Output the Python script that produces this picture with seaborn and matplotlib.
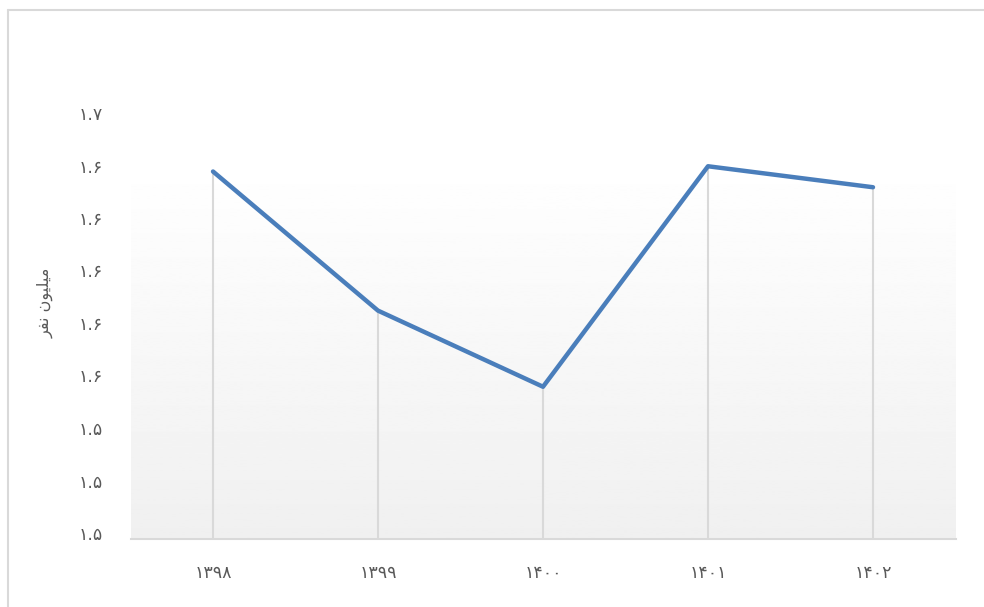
import matplotlib
matplotlib.use("Agg")
import matplotlib.pyplot as plt
import matplotlib.transforms as mtransforms
import seaborn as sns
import numpy as np
import pandas as pd

# data
years = ["۱۳۹۸", "۱۳۹۹", "۱۴۰۰", "۱۴۰۱", "۱۴۰۲"]
population = [1.640, 1.587, 1.558, 1.642, 1.634]   # million people
y_ticks = [1.50, 1.52, 1.54, 1.56, 1.58, 1.60, 1.62, 1.64, 1.66]

# "میلیون نفر" in shaped presentation forms, visual (left-to-right) order
y_label = "\ufeae\ufed4\ufee7 \ufee5\ufeee\ufef4\ufee0\ufef4\ufee3"

PERSIAN = str.maketrans("0123456789", "۰۱۲۳۴۵۶۷۸۹")


def fa_num(v):
    """Format a tick value with one decimal and Persian digits."""
    return f"{v:.1f}".translate(PERSIAN)


sns.set_style("white")
plt.rcParams["font.family"] = ["DejaVu Sans"]

df = pd.DataFrame({"pos": np.arange(len(years)), "value": population})

fig = plt.figure(figsize=(9.84, 6.07), dpi=100)
ax = fig.add_axes([130.5 / 984, (607 - 539) / 607, 825 / 984, 420 / 607])
ax.set_xlim(-0.5, len(years) - 0.5)

# soft gradient fill behind the series
grad = np.linspace(0.94, 0.998, 256).reshape(-1, 1)
ax.imshow(grad, cmap="gray", vmin=0, vmax=1, aspect="auto",
          extent=(-0.5, len(years) - 0.5, y_ticks[0], 1.6398),
          origin="lower", zorder=0)
ax.set_ylim(y_ticks[0], y_ticks[-1])

# drop lines from each point to the axis
ax.vlines(df["pos"], y_ticks[0], df["value"], color="#d9d9d9", lw=1.5, zorder=1)

sns.lineplot(data=df, x="pos", y="value", ax=ax, color="#4a7ebb",
             linewidth=3.2, solid_capstyle="round", zorder=3)

ax.set_xticks(df["pos"])
ax.set_xticklabels(years)
ax.set_yticks(y_ticks)
ax.set_yticklabels([fa_num(v) for v in y_ticks])
ax.tick_params(axis="both", length=0, labelsize=12.5, labelcolor="#595959")
ax.tick_params(axis="y", pad=20)
ax.tick_params(axis="x", pad=18)
ax.set_xlabel("")
ax.set_ylabel("")

# y labels sit a little above their gridline position in the reference
shift = mtransforms.ScaledTranslation(0, 6 / 100, fig.dpi_scale_trans)
for lab in ax.get_yticklabels():
    lab.set_transform(lab.get_transform() + shift)

for side in ["top", "right", "left"]:
    ax.spines[side].set_visible(False)
ax.spines["bottom"].set_color("#d9d9d9")
ax.spines["bottom"].set_linewidth(1.5)

fig.text(45 / 984, 1 - 303 / 607, y_label, rotation=90, ha="center",
         va="center", fontsize=11.5, color="#595959")

# outer chart border (top and left visible in the crop)
fig.add_artist(plt.Line2D([8 / 984, 1], [1 - 10 / 607] * 2,
                          transform=fig.transFigure, color="#d9d9d9", lw=1.5))
fig.add_artist(plt.Line2D([8 / 984] * 2, [0, 1 - 10 / 607],
                          transform=fig.transFigure, color="#d9d9d9", lw=1.5))

fig.savefig("out.png", dpi=100)
